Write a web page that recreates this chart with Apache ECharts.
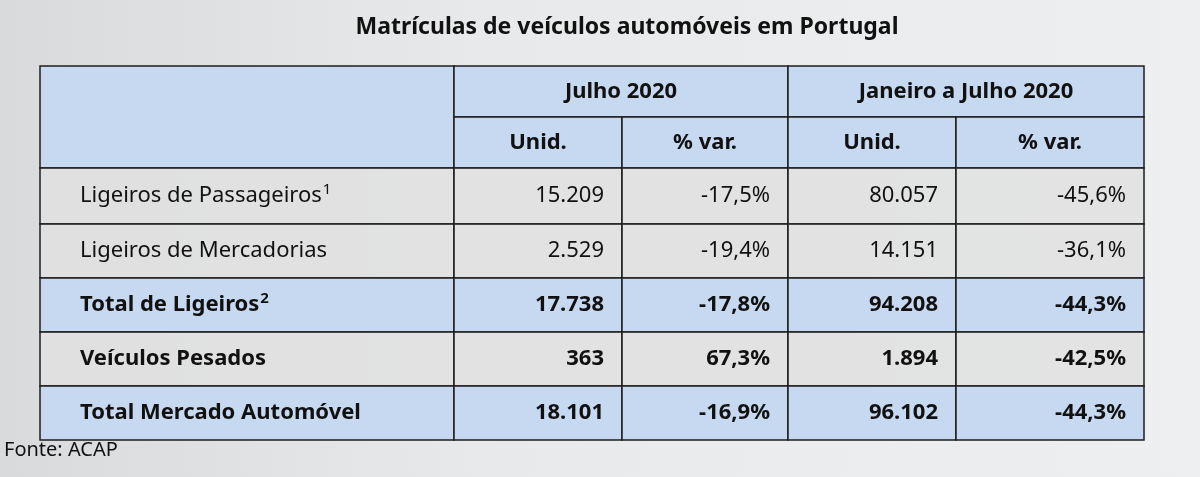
<!DOCTYPE html>
<html><head><meta charset="utf-8">
<script src="https://cdn.jsdelivr.net/npm/echarts@6/dist/echarts.min.js"></script>
<style>html,body{margin:0;padding:0}#c{width:1200px;height:477px}</style></head>
<body><div id="c"></div>
<script>
const title = "Matrículas de veículos automóveis em Portugal";
const groupHeaders = ["Julho 2020", "Janeiro a Julho 2020"];
const subHeaders = ["Unid.", "% var.", "Unid.", "% var."];
const categories = ["Ligeiros de Passageiros", "Ligeiros de Mercadorias", "Total de Ligeiros", "Veículos Pesados", "Total Mercado Automóvel"];
const superscripts = ["1", "", "2", "", ""];
const boldRows = [false, false, true, true, true];
const julUnid = ["15.209", "2.529", "17.738", "363", "18.101"];
const julVar = ["-17,5%", "-19,4%", "-17,8%", "67,3%", "-16,9%"];
const ytdUnid = ["80.057", "14.151", "94.208", "1.894", "96.102"];
const ytdVar = ["-45,6%", "-36,1%", "-44,3%", "-42,5%", "-44,3%"];
const source = "Fonte: ACAP";

// layout (pixel-space on hidden value axes)
const colEdges = [40, 454, 622, 788, 956, 1144];
const rowEdges = [66, 117, 168, 224, 278, 332, 386, 440];
const blue = '#c6d9f1', gray = 'rgba(225,225,225,0.85)', line = '#1e1e1e';
const rowFill = [gray, gray, blue, gray, blue];
const F = 'Noto Sans';

const cells = [];
cells.push([0,1,0,2,'', 'center', true, blue]);
cells.push([1,3,0,1,groupHeaders[0],'center',true,blue]);
cells.push([3,5,0,1,groupHeaders[1],'center',true,blue]);
subHeaders.forEach((t,i)=>cells.push([1+i,2+i,1,2,t,'center',true,blue]));
const cols = [julUnid, julVar, ytdUnid, ytdVar];
categories.forEach((c,r)=>{
  const lbl = superscripts[r] ? c + '{s|' + superscripts[r] + '}' : c;
  cells.push([0,1,2+r,3+r,lbl,'left',boldRows[r],rowFill[r]]);
  cols.forEach((arr,i)=>cells.push([1+i,2+i,2+r,3+r,arr[r],'right',boldRows[r],rowFill[r]]));
});

const chart = echarts.init(document.getElementById('c'));
chart.setOption({
  backgroundColor: {type:'linear',x:0,y:0,x2:1,y2:0,colorStops:[{offset:0,color:'#d9dadb'},{offset:0.4,color:'#e8e9ea'},{offset:1,color:'#eeeff0'}]},
  title: {text: title, left: 622, top: 11, textAlign:'center', textStyle:{fontFamily:F,fontSize:23,fontWeight:'bold',color:'#111'}},
  grid: {left:0, right:0, top:0, bottom:0},
  xAxis: {type:'value', min:0, max:1200, show:false},
  yAxis: {type:'value', min:0, max:477, inverse:true, show:false},
  graphic: [{type:'text', left:4, top:440, style:{text:source, font:'20px "Noto Sans"', fill:'#111'}}],
  series: [{
    type:'custom', coordinateSystem:'cartesian2d', silent:true,
    data: cells.map((c,i)=>[i]),
    renderItem: function(params, api){
      const c = cells[api.value(0)];
      const p0 = api.coord([colEdges[c[0]], rowEdges[c[2]]]);
      const p1 = api.coord([colEdges[c[1]], rowEdges[c[3]]]);
      const w = p1[0]-p0[0], h = p1[1]-p0[1];
      let tx = c[5]==='left' ? p0[0]+40 : c[5]==='right' ? p1[0]-18 : p0[0]+w/2;
      return {type:'group', children:[
        {type:'rect', shape:{x:p0[0],y:p0[1],width:w,height:h}, style:{fill:c[7], stroke:line, lineWidth:1.5}},
        {type:'text', x:tx, y:p0[1]+h/2, style:{text:c[4], align:c[5], verticalAlign:'middle',
          fontFamily:F, fontSize:22, fontWeight:c[6]?'bold':'normal', fill:'#111',
          rich:{s:{fontSize:15, verticalAlign:'top', padding:[0,0,12,1], fontFamily:F, fontWeight:c[6]?'bold':'normal', fill:'#111'}}}}
      ]};
    }
  }]
});
</script></body></html>
